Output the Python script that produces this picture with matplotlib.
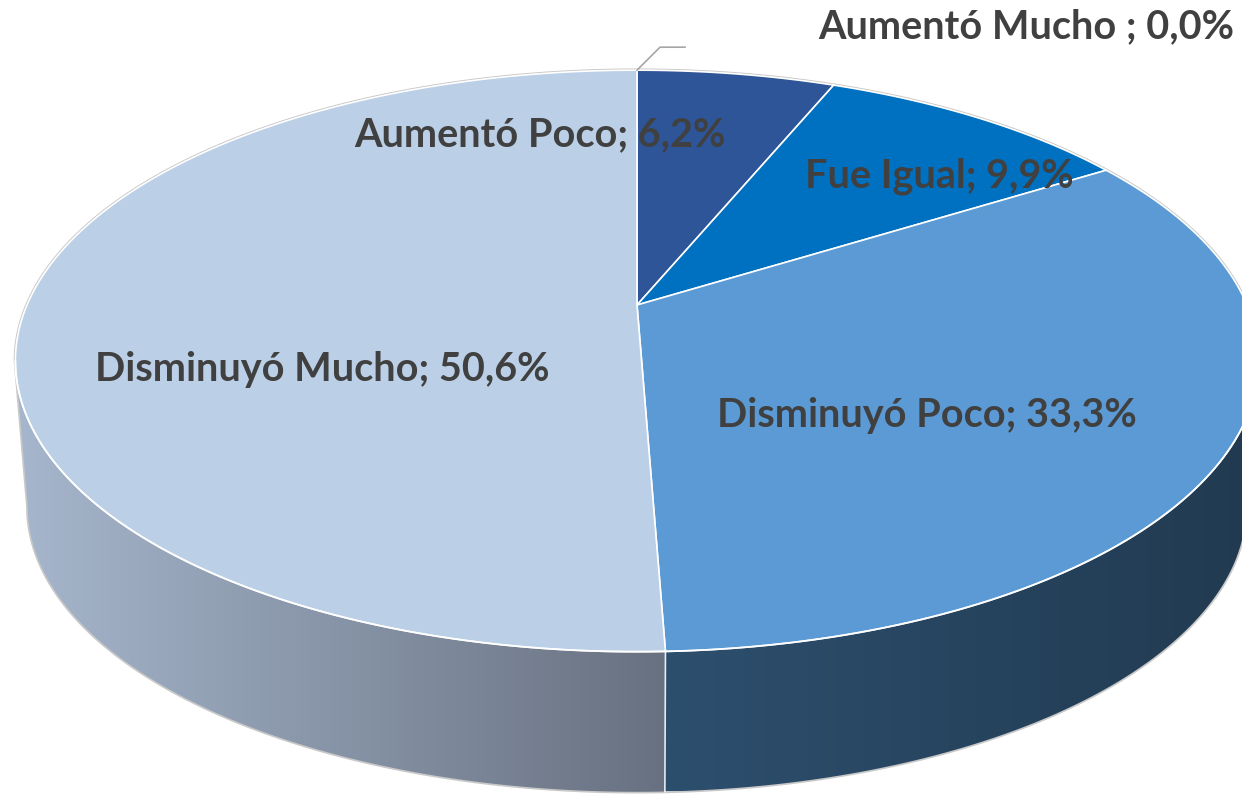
import matplotlib.pyplot as plt
import numpy as np
from matplotlib.patches import Polygon
from matplotlib.colors import LinearSegmentedColormap

categories = ["Aumentó Mucho ", "Aumentó Poco", "Fue Igual", "Disminuyó Poco", "Disminuyó Mucho"]
values = [0.0, 6.2, 9.9, 33.3, 50.6]
top_colors = ["#1F3864", "#2E5597", "#0070C0", "#5B9AD5", "#BBCFE7"]
side_colors = [("#1F3864", "#1F3864"), ("#23406F", "#23406F"), ("#00538F", "#00538F"),
               ("#2D4F6E", "#213A50"), ("#A6B6CC", "#687181")]
label_pos = [(1026, 27), (540, 135), (939, 176), (927, 415), (322, 370)]

# pie geometry in pixels (perspective tilt)
CX, CY = 637, 305
A, B = 610, 280
P = 0.1924
DEPTH = 147
BOT_SCALE = 0.98
TEXT_COLOR = "#404040"


def proj(theta, bottom=False):
    t = np.radians(theta)
    u, v = np.sin(t), np.cos(t)
    w = 1 + P * v
    s = BOT_SCALE if bottom else 1.0
    x = CX + s * A * u / w
    y = CY - s * B * v / w + (DEPTH if bottom else 0)
    return x, y


fig = plt.figure(figsize=(12.42, 7.94), dpi=100)
ax = fig.add_axes([0, 0, 1, 1])
ax.set_xlim(0, 1242)
ax.set_ylim(794, 0)
ax.axis("off")

total = sum(values)
edges = np.concatenate([[0], np.cumsum(values) / total * 360])

# visible front rim
vis_lo = np.degrees(np.arccos(-P))
vis_hi = 360 - vis_lo

# outline of whole shape (light gray halo)
xb, yb = proj(np.linspace(vis_lo, vis_hi, 300), bottom=True)
xt_back, yt_back = proj(np.concatenate([np.linspace(vis_hi, 360, 200), np.linspace(0, vis_lo, 200)]))
hull = np.column_stack([np.concatenate([xb, xt_back]), np.concatenate([yb, yt_back])])
ax.add_patch(Polygon(hull, closed=True, facecolor="none", edgecolor="#C8C8C8", lw=2.5, zorder=1))

# side walls with horizontal gradient
for i in range(len(values)):
    a, b = max(edges[i], vis_lo), min(edges[i + 1], vis_hi)
    if b <= a:
        continue
    th = np.linspace(a, b, 200)
    xt, yt = proj(th)
    xbt, ybt = proj(th[::-1], bottom=True)
    pts = np.column_stack([np.concatenate([xt, xbt]), np.concatenate([yt, ybt])])
    poly = Polygon(pts, closed=True, facecolor="none", edgecolor="none", zorder=2)
    ax.add_patch(poly)
    cmap = LinearSegmentedColormap.from_list("side%d" % i, [side_colors[i][0], side_colors[i][1]])
    x0, x1 = pts[:, 0].min(), pts[:, 0].max()
    y0, y1 = pts[:, 1].min(), pts[:, 1].max()
    grad = np.linspace(0, 1, 256).reshape(1, -1)
    im = ax.imshow(grad, cmap=cmap, extent=[x0, x1, y1, y0], aspect="auto", zorder=2, interpolation="bilinear")
    im.set_clip_path(poly)

# divider lines on side wall
for e in edges[1:-1]:
    if vis_lo < e < vis_hi:
        x0, y0 = proj(e)
        x1, y1 = proj(e, bottom=True)
        ax.plot([x0, x1], [y0, y1], color="white", lw=1.2, alpha=0.85, zorder=3)

# top face slices
for i in range(len(values)):
    if values[i] <= 0:
        continue
    th = np.linspace(edges[i], edges[i + 1], 300)
    xt, yt = proj(th)
    pts = np.column_stack([np.concatenate([[CX], xt]), np.concatenate([[CY], yt])])
    ax.add_patch(Polygon(pts, closed=True, facecolor=top_colors[i], edgecolor="white",
                         lw=1.2, joinstyle="round", zorder=4))

# front rim highlight
xr, yr = proj(np.linspace(vis_lo, vis_hi, 300))
ax.plot(xr, yr, color="white", lw=1.3, alpha=0.9, zorder=5)

# leader line for the zero slice
lx, ly = proj(edges[0])
ax.plot([lx, lx + 23, lx + 48], [ly, ly - 23, ly - 23], color="#A6A6A6", lw=1.2, zorder=5)

for i, cat in enumerate(categories):
    txt = "%s; %s%%" % (cat, ("%.1f" % values[i]).replace(".", ","))
    ax.text(label_pos[i][0], label_pos[i][1], txt, ha="center", va="center",
            fontsize=28.5, fontweight="bold", color=TEXT_COLOR,
            family=["Lato", "DejaVu Sans"], zorder=6)

fig.savefig("out.png", dpi=100)
